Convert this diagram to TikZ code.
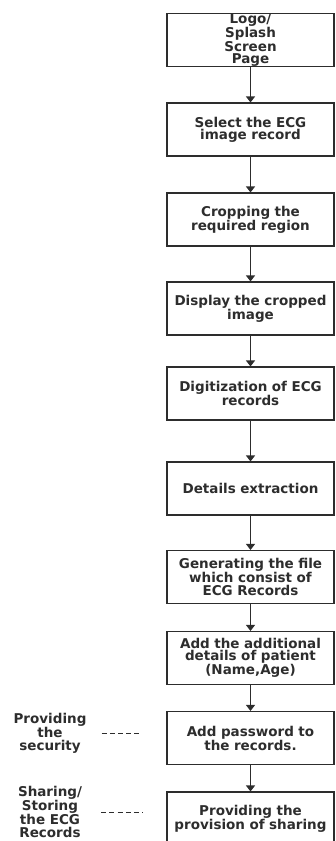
\documentclass[tikz,border=0pt]{standalone}
\usepackage{fontspec}
\setmainfont{DejaVu Sans}
\usetikzlibrary{calc,arrows.meta}
\definecolor{inkgray}{RGB}{45,45,45}
\tikzset{
  stage/.style={draw=inkgray,line width=1.1pt,minimum width=167pt,minimum height=53pt,
    inner sep=0pt,text width=162pt,align=center,text=inkgray,
    font=\bfseries\fontsize{13.5}{12.3}\selectfont},
  note/.style={align=center,inner sep=0pt,text=inkgray,
    font=\bfseries\fontsize{13.5}{12.5}\selectfont},
  flow/.style={draw=inkgray,line width=1.1pt,-{Triangle[width=9pt,length=6pt]}},
  sidelink/.style={draw=inkgray,line width=0.7pt,dash pattern=on 5pt off 3.2pt}
}

\begin{document}
\begin{tikzpicture}[x=1pt,y=1pt]
\useasboundingbox (0,0) rectangle (335,-841);
\clip (0,0) rectangle (335,-841);
\node[stage] (logo) at (250.5,-40) {Logo/\\Splash\\Screen\\Page};
\node[stage] (select) at (250.5,-129.5) {Select the ECG\\image record};
\node[stage] (crop) at (250.5,-219.5) {Cropping the\\required region};
\node[stage] (display) at (250.5,-308.5) {Display the cropped\\image};
\node[stage] (digit) at (250.5,-393.5) {Digitization of ECG\\records};
\node[stage] (extract) at (250.5,-488.5) {Details extraction};
\node[stage] (genfile) at (250.5,-577) {Generating the file\\which consist of\\ECG Records};
\node[stage] (patient) at (250.5,-658) {Add the additional\\details of patient\\(Name,Age)};
\node[stage] (pwd) at (250.5,-738) {Add password to\\the records.};
\node[stage] (share) at (250.5,-818.5) {Providing the\\provision of sharing};
\foreach \a/\b in {logo/select,select/crop,crop/display,display/digit,digit/extract,
  extract/genfile,genfile/patient,patient/pwd,pwd/share}
\draw[flow] (\a) -- (\b);
\node[note] (secure) at (50,-733) {Providing\\the\\security};
\node[note] (store) at (50,-812) {Sharing/\\Storing\\the ECG\\Records};
\draw[sidelink] ($(secure.east)+(15pt,0)$) -- ($(secure.east -| pwd.west)+(-24pt,0)$);
\draw[sidelink] ($(store.east)+(19pt,0)$) -- ($(store.east -| share.west)+(-24pt,0)$);
\end{tikzpicture}
\end{document}
